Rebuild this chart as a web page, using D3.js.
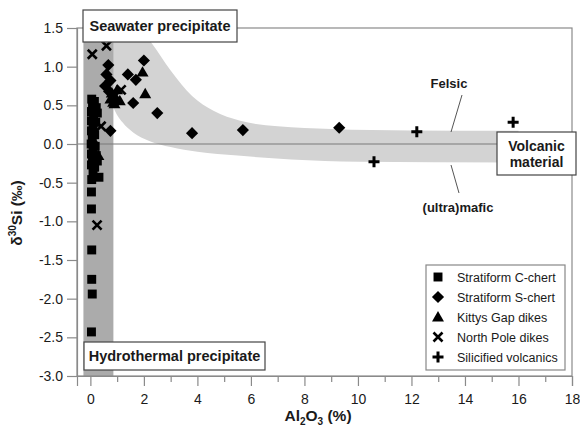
<!DOCTYPE html>
<html>
<head>
<meta charset="utf-8">
<script src="https://cdn.jsdelivr.net/npm/d3@7"></script>
<style>
  body { margin: 0; background: #fff; }
  svg { display: block; }
  text { font-family: "Liberation Sans", Arial, sans-serif; fill: #1a1a1a; }
</style>
</head>
<body>
<svg id="chart" width="580" height="435"></svg>
<script>
// Axis ticks
const xTicks = [0, 2, 4, 6, 8, 10, 12, 14, 16, 18];
const xMinorTicks = [1, 3, 5, 7, 9, 11, 13, 15, 17];
const yTicks = [-3.0, -2.5, -2.0, -1.5, -1.0, -0.5, 0.0, 0.5, 1.0, 1.5];

// Samples: [Al2O3 %, δ30Si ‰]
const cChert = [
  [0.05, 0.58], [0.15, 0.55], [0.08, 0.50], [0.22, 0.47], [0.04, 0.42], [0.26, 0.40],
  [0.12, 0.35], [0.04, 0.30], [0.20, 0.28], [0.10, 0.22], [0.04, 0.17], [0.16, 0.12],
  [0.07, 0.06], [0.03, 0.00], [0.18, -0.03], [0.10, -0.08], [0.04, -0.13], [0.22, -0.15],
  [0.08, -0.20], [0.26, -0.22], [0.04, -0.27], [0.16, -0.30], [0.10, -0.36], [0.32, -0.43],
  [0.05, -0.46], [0.04, -0.62], [0.04, -0.84], [0.05, -1.37], [0.05, -1.75], [0.07, -1.94],
  [0.04, -2.43]
];
const sChert = [
  [0.67, 1.02], [0.60, 0.90], [0.75, 0.82], [0.55, 0.75], [0.70, 0.68], [1.40, 0.90],
  [1.70, 0.83], [2.00, 1.08], [1.60, 0.53], [2.50, 0.40], [0.75, 0.17], [3.80, 0.14],
  [5.70, 0.18], [9.30, 0.21]
];
const kittysGap = [
  [0.75, 0.58], [0.85, 0.54], [0.95, 0.60], [0.80, 0.66], [1.00, 0.70], [0.90, 0.52],
  [1.10, 0.56], [1.95, 0.93], [2.05, 0.65], [0.30, -0.15]
];
const northPole = [
  [0.07, 1.16], [0.60, 1.27], [1.15, 0.70], [0.40, 0.23], [0.12, 0.06], [0.25, -1.05]
];
const volcanics = [
  [10.6, -0.23], [12.2, 0.16], [15.8, 0.28]
];

// Mixing field edges (increasing Al2O3) and the hydrothermal Al2O3 range
const felsicEdge = [
  [0.4, 1.62], [1.3, 1.62], [1.8, 1.5], [2.3, 1.3], [3.0, 0.95], [3.8, 0.62], [4.6, 0.43],
  [5.6, 0.3], [7.0, 0.23], [9.0, 0.195], [12.0, 0.175], [16.0, 0.17]
];
const maficEdge = [
  [0.42, 1.6], [0.6, 0.8], [0.86, 0.48], [1.2, 0.28], [1.6, 0.15], [2.2, 0.04], [3.0, -0.04],
  [4.0, -0.1], [5.5, -0.15], [7.5, -0.2], [10.0, -0.23], [16.0, -0.24], [18.5, -0.24]
];
const hydrothermalRange = [-0.26, 0.86];

const svg = d3.select("#chart");
const x = d3.scaleLinear().domain([-0.5, 18]).range([77, 572]);
const y = d3.scaleLinear().domain([-3, 1.5]).range([376, 28]);

svg.append("defs").append("clipPath").attr("id", "plot")
  .append("rect").attr("x", 77).attr("y", 28).attr("width", 495).attr("height", 348);

const plot = svg.append("g").attr("clip-path", "url(#plot)");

// Mixing field: grey below the felsic edge, then white below the mafic edge
const underEdge = d3.area().x(d => x(d[0])).y0(y(-3) + 5).y1(d => y(d[1])).curve(d3.curveMonotoneX);
plot.append("path").attr("d", underEdge(felsicEdge)).attr("fill", "#d3d3d3");
plot.append("path").attr("d", underEdge(maficEdge)).attr("fill", "#fff");

// Dark grey hydrothermal band
plot.append("rect")
  .attr("x", x(hydrothermalRange[0])).attr("width", x(hydrothermalRange[1]) - x(hydrothermalRange[0]))
  .attr("y", y(1.5)).attr("height", y(-3) - y(1.5))
  .attr("fill", "#ababab");

// Zero line
plot.append("line")
  .attr("x1", x(-0.5)).attr("x2", x(18)).attr("y1", y(0)).attr("y2", y(0))
  .attr("stroke", "#7a7a7a").attr("stroke-width", 1.2);

// Frame
svg.append("rect").attr("x", 77).attr("y", 28).attr("width", 495).attr("height", 348)
  .attr("fill", "none").attr("stroke", "#8a8a8a").attr("stroke-width", 1.2);

// Axes
svg.append("g").attr("transform", `translate(0,${y(-3)})`)
  .call(d3.axisBottom(x).tickValues(xTicks).tickSize(10).tickPadding(8).tickFormat(d3.format("d")));
svg.append("g").attr("transform", `translate(0,${y(-3)})`)
  .call(d3.axisBottom(x).tickValues(xMinorTicks).tickSize(6).tickFormat(""))
  .call(g => g.select(".domain").remove());
svg.append("g").attr("transform", `translate(${x(-0.5)},0)`)
  .call(d3.axisLeft(y).tickValues(yTicks).tickSize(10).tickPadding(4).tickFormat(d => d.toFixed(1)));
svg.selectAll(".tick line, .domain").attr("stroke", "#8a8a8a").attr("stroke-width", 1.2);
svg.selectAll(".tick text").attr("font-size", 14).attr("fill", "#1a1a1a")
  .attr("font-family", "'Liberation Sans', Arial, sans-serif");

// Axis titles
const xt = svg.append("text").attr("x", 318).attr("y", 421).attr("text-anchor", "middle")
  .attr("font-size", 15.5).attr("font-weight", "bold");
xt.append("tspan").text("Al");
xt.append("tspan").text("2").attr("font-size", 10).attr("dy", 4);
xt.append("tspan").text("O").attr("dy", -4);
xt.append("tspan").text("3").attr("font-size", 10).attr("dy", 4);
xt.append("tspan").text(" (%)").attr("dy", -4);

const yt = svg.append("text").attr("transform", "translate(22,213) rotate(-90)")
  .attr("text-anchor", "middle").attr("font-size", 15.5).attr("font-weight", "bold");
yt.append("tspan").text("δ");
yt.append("tspan").text("30").attr("font-size", 10).attr("dy", -6);
yt.append("tspan").text("Si (‰)").attr("dy", 6);

// Markers
const marks = svg.append("g");
const sq = d3.symbol().type(d3.symbolSquare).size(80)();
const dia = d3.symbol().type(d3.symbolSquare).size(74)();
const tri = d3.symbol().type(d3.symbolTriangle).size(62)();
function crossPath(r) { return `M${-r},${-r}L${r},${r}M${-r},${r}L${r},${-r}`; }
function plusPath(r) { return `M${-r},0L${r},0M0,${-r}L0,${r}`; }

function drawSquare(g, px, py) { g.append("path").attr("d", sq).attr("transform", `translate(${px},${py})`).attr("fill", "#000"); }
function drawDiamond(g, px, py) { g.append("path").attr("d", dia).attr("transform", `translate(${px},${py}) rotate(45)`).attr("fill", "#000"); }
function drawTriangle(g, px, py) { g.append("path").attr("d", tri).attr("transform", `translate(${px},${py + 1})`).attr("fill", "#000"); }
function drawCross(g, px, py) { g.append("path").attr("d", crossPath(4.5)).attr("transform", `translate(${px},${py})`).attr("stroke", "#000").attr("stroke-width", 2.6).attr("fill", "none"); }
function drawPlus(g, px, py) { g.append("path").attr("d", plusPath(5.5)).attr("transform", `translate(${px},${py})`).attr("stroke", "#000").attr("stroke-width", 3).attr("fill", "none"); }

cChert.forEach(d => drawSquare(marks, x(d[0]), y(d[1])));
sChert.forEach(d => drawDiamond(marks, x(d[0]), y(d[1])));
kittysGap.forEach(d => drawTriangle(marks, x(d[0]), y(d[1])));
northPole.forEach(d => drawCross(marks, x(d[0]), y(d[1])));
volcanics.forEach(d => drawPlus(marks, x(d[0]), y(d[1])));

// Labelled boxes
function labelBox(x0, y0, w, h, lines, size) {
  const g = svg.append("g");
  g.append("rect").attr("x", x0).attr("y", y0).attr("width", w).attr("height", h)
    .attr("fill", "#fff").attr("stroke", "#444").attr("stroke-width", 1.2);
  lines.forEach((t, i) => {
    g.append("text").attr("x", x0 + w / 2).attr("y", y0 + h / 2 + 5 + (i - (lines.length - 1) / 2) * 16)
      .attr("text-anchor", "middle").attr("font-size", size).attr("font-weight", "bold").text(t);
  });
}
labelBox(83, 10, 154, 32, ["Seawater precipitate"], 14.5);
labelBox(84, 342, 181, 28, ["Hydrothermal precipitate"], 14.5);
labelBox(497, 132, 79, 43, ["Volcanic", "material"], 14);

// End-member labels with leaders
svg.append("text").attr("x", 449).attr("y", 88).attr("text-anchor", "middle")
  .attr("font-size", 13).attr("font-weight", "bold").text("Felsic");
svg.append("line").attr("x1", 462).attr("y1", 95).attr("x2", 451).attr("y2", 132)
  .attr("stroke", "#555").attr("stroke-width", 1);
svg.append("text").attr("x", 458).attr("y", 212).attr("text-anchor", "middle")
  .attr("font-size", 13).attr("font-weight", "bold").text("(ultra)mafic");
svg.append("line").attr("x1", 451).attr("y1", 165).attr("x2", 459).attr("y2", 193)
  .attr("stroke", "#555").attr("stroke-width", 1);

// Legend
const legendItems = [
  ["Stratiform C-chert", drawSquare],
  ["Stratiform S-chert", drawDiamond],
  ["Kittys Gap dikes", drawTriangle],
  ["North Pole dikes", drawCross],
  ["Silicified volcanics", drawPlus]
];
const lg = svg.append("g");
lg.append("rect").attr("x", 426).attr("y", 265).attr("width", 139).attr("height", 105)
  .attr("fill", "#fff").attr("stroke", "#888").attr("stroke-width", 1.2);
legendItems.forEach((item, i) => {
  const cy = 277 + i * 20;
  item[1](lg, 438, cy);
  lg.append("text").attr("x", 457).attr("y", cy + 4.5).attr("font-size", 12.5).text(item[0]);
});
</script>
</body>
</html>
